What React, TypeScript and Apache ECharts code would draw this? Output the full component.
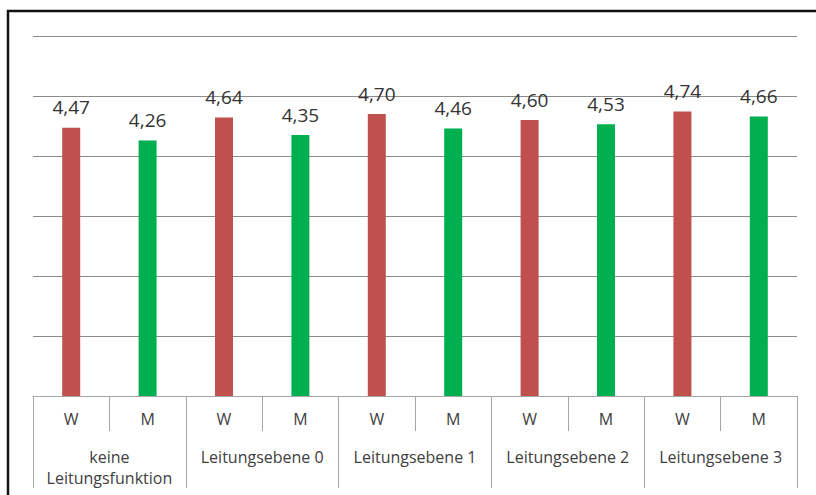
import React, { useEffect, useRef } from "react";
import * as echarts from "echarts";

const groups = ["keine\nLeitungsfunktion", "Leitungsebene 0", "Leitungsebene 1", "Leitungsebene 2", "Leitungsebene 3"];
const sexes = ["W", "M"];
const valuesW = [4.47, 4.64, 4.7, 4.6, 4.74];
const valuesM = [4.26, 4.35, 4.46, 4.53, 4.66];
const sexColors: Record<string, string> = { W: "#C0504D", M: "#00B050" };

const FONT = "'Open Sans', sans-serif";

export default function App() {
  const ref = useRef<HTMLDivElement>(null);
  useEffect(() => {
    document.body.style.margin = "0";
    if (!ref.current) return;
    const chart = echarts.init(ref.current, null, { renderer: "svg" });
    const cats: string[] = [];
    const data: any[] = [];
    groups.forEach((g, i) => {
      sexes.forEach((s) => {
        cats.push(s);
        const v = s === "W" ? valuesW[i] : valuesM[i];
        data.push({ value: v, itemStyle: { color: sexColors[s] } });
      });
    });
    chart.setOption({
      animation: false,
      backgroundColor: "#ffffff",
      textStyle: { fontFamily: FONT },
      grid: { left: 33, right: 19, top: 36, bottom: 99, containLabel: false },
      graphic: [
        {
          type: "rect",
          shape: { x: 8, y: 11, width: 840, height: 520 },
          style: { fill: "none", stroke: "#111111", lineWidth: 2.5 },
          silent: true,
        },
      ],
      xAxis: [
        {
          type: "category",
          data: cats,
          position: "bottom",
          axisLine: { show: true, lineStyle: { color: "#A6A6A6", width: 1 } },
          axisTick: { show: true, interval: 0, length: 35, lineStyle: { color: "#A6A6A6" } },
          axisLabel: { interval: 0, margin: 15, fontSize: 16, color: "#404040", fontFamily: FONT },
        },
        {
          type: "category",
          data: groups,
          position: "bottom",
          axisLine: { show: false },
          axisTick: { show: true, interval: 0, length: 92, lineStyle: { color: "#A6A6A6" } },
          axisLabel: { interval: 0, margin: 50, fontSize: 16, lineHeight: 21, color: "#404040", fontFamily: FONT, align: "center" },
        },
      ],
      yAxis: {
        type: "value",
        min: 0,
        max: 6,
        interval: 1,
        axisLabel: { show: false },
        axisLine: { show: false },
        axisTick: { show: false },
        splitLine: { show: true, lineStyle: { color: "#8C8C8C", width: 1 } },
      },
      series: [
        {
          type: "bar",
          xAxisIndex: 0,
          data,
          barWidth: 18,
          label: {
            show: true,
            position: "top",
            distance: 11,
            fontSize: 19,
            color: "#333333",
            fontFamily: FONT,
            formatter: (p: any) => p.value.toFixed(2).replace(".", ","),
          },
        },
      ],
    });
    return () => chart.dispose();
  }, []);
  return <div ref={ref} style={{ width: 816, height: 495 }} />;
}
